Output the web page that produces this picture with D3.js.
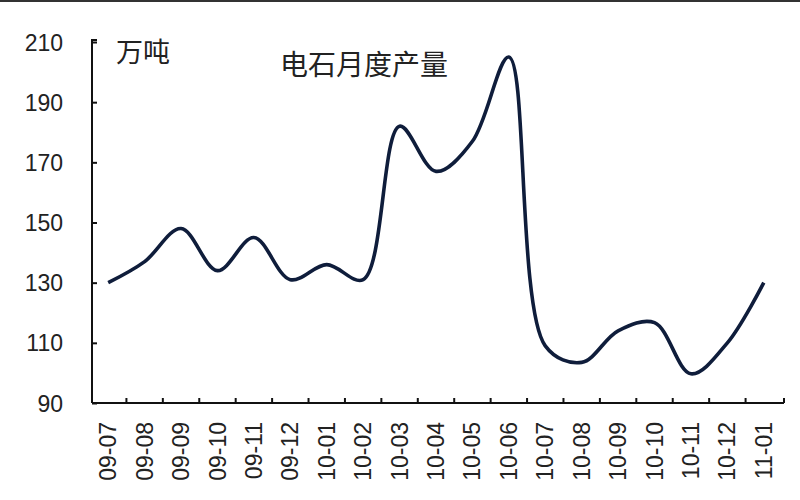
<!DOCTYPE html>
<html><head><meta charset="utf-8">
<script src="https://cdn.jsdelivr.net/npm/d3@7"></script>
<style>
body{margin:0;background:#fff;}
text{font-family:"Liberation Sans",Arial,"Noto Sans CJK SC",sans-serif;}
</style></head>
<body><svg id="c" width="800" height="500"></svg>
<script>
const categories=["09-07","09-08","09-09","09-10","09-11","09-12","10-01","10-02","10-03","10-04","10-05","10-06","10-07","10-08","10-09","10-10","10-11","10-12","11-01"];
const values=[130,137,148,134,145,131,136,131,182,167,177,205,109,103.5,114,116.7,99.7,110,130];
const yTicks=[90,110,130,150,170,190,210];
const unitLabel="万吨";
const title="电石月度产量";

const svg=d3.select("#c");
const mL=92,mR=784,mT=42,mB=403;
svg.append("rect").attr("x",0).attr("y",0).attr("width",800).attr("height",2).attr("fill","#333");

const x=d3.scaleBand().domain(categories).range([mL-2,mR-2]);
const y=d3.scaleLinear().domain([90,210]).range([mB,mT]);

// y axis
const ya=svg.append("g").attr("transform",`translate(${mL},0)`)
  .call(d3.axisRight(y).tickValues(yTicks).tickSize(5).tickFormat(d3.format("d")));
ya.select(".domain").attr("stroke","#111").attr("stroke-width",2).attr("d",`M5,${mT-2}H0V${mB}`);
ya.selectAll(".tick line").attr("stroke","#111").attr("stroke-width",2);
ya.selectAll(".tick text").attr("x",-29).attr("text-anchor","end").attr("font-size",23).attr("fill","#222").attr("dy","0.35em");

// x axis
const xa=svg.append("g").attr("transform",`translate(0,${mB})`)
  .call(d3.axisBottom(x).tickSize(0));
xa.select(".domain").attr("stroke","#111").attr("stroke-width",2).attr("d",`M${mL},0H${mR}`);
const bounds=categories.slice(1).map(c=>x(c)).concat([mR]);
xa.selectAll(".tickmark").data(bounds).enter().append("line").attr("class","tickmark")
  .attr("x1",d=>d).attr("x2",d=>d).attr("y1",0).attr("y2",-5).attr("stroke","#111").attr("stroke-width",2);
xa.selectAll(".tick text").attr("font-size",23).attr("fill","#222")
  .attr("transform","rotate(-90)").attr("text-anchor","end").attr("x",-19).attr("y",0).attr("dy","0.35em");

// line
const line=d3.line().x((d,i)=>x(categories[i])+x.bandwidth()/2).y(d=>y(d)).curve(d3.curveCatmullRom.alpha(0.5));
svg.append("path").datum(values).attr("d",line).attr("fill","none").attr("stroke","#0f1d3b").attr("stroke-width",3.6).attr("stroke-linejoin","round");

svg.append("text").attr("x",116).attr("y",62).attr("font-size",27).attr("fill","#222").attr("font-family","Noto Sans CJK SC").text(unitLabel);
svg.append("text").attr("x",280).attr("y",75).attr("font-size",28).attr("fill","#222").attr("font-family","Noto Sans CJK SC").text(title);
</script></body></html>
